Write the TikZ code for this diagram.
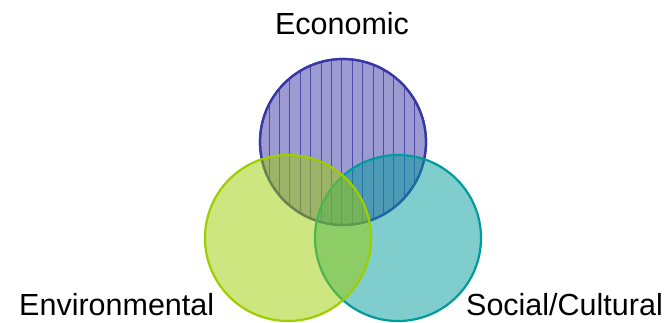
\documentclass[tikz,border=0pt]{standalone}
\usepackage{fontspec}
\setmainfont{Liberation Sans}
\usepackage{tikz}
\usetikzlibrary{positioning}
\definecolor{econblue}{RGB}{55,55,165}
\definecolor{envgreen}{RGB}{158,205,0}
\definecolor{socteal}{RGB}{0,155,155}
\definecolor{hatch}{RGB}{75,75,170}

\begin{document}
\begin{tikzpicture}[x=1pt,y=1pt,
                set/.style={circle,line width=2.2pt,minimum size=166pt,inner sep=0pt,fill opacity=0.5},
                lbl/.style={inner sep=0pt,font=\fontsize{30.5}{36}\selectfont}]
                \useasboundingbox (0,0) rectangle (668,322);
                \node[set,draw=econblue,fill=econblue] (econ) at (343,180){};
                \begin{scope}
                \clip (econ.center) circle (83pt);
                \foreach \x in {0,...,16}
                    \draw[hatch,line width=0.7pt] (258.6+10.4*\x,90) -- (258.6+10.4*\x,270);
                \end{scope}
                \node[set,draw=econblue] at (econ.center){};
                \node[set,draw=socteal,fill=socteal] (soc) at (398,84){};
                \node[set,draw=envgreen,fill=envgreen] (env) at (288,84){};
                \node[lbl,anchor=base] (econtext) at (342,287.7){Economic};
                \node[lbl,anchor=base west] (envtext) at (19,6.6){Environmental};
                \node[lbl,anchor=base east] (soctext) at (663,6.6){Social/Cultural};
\end{tikzpicture}
\end{document}
